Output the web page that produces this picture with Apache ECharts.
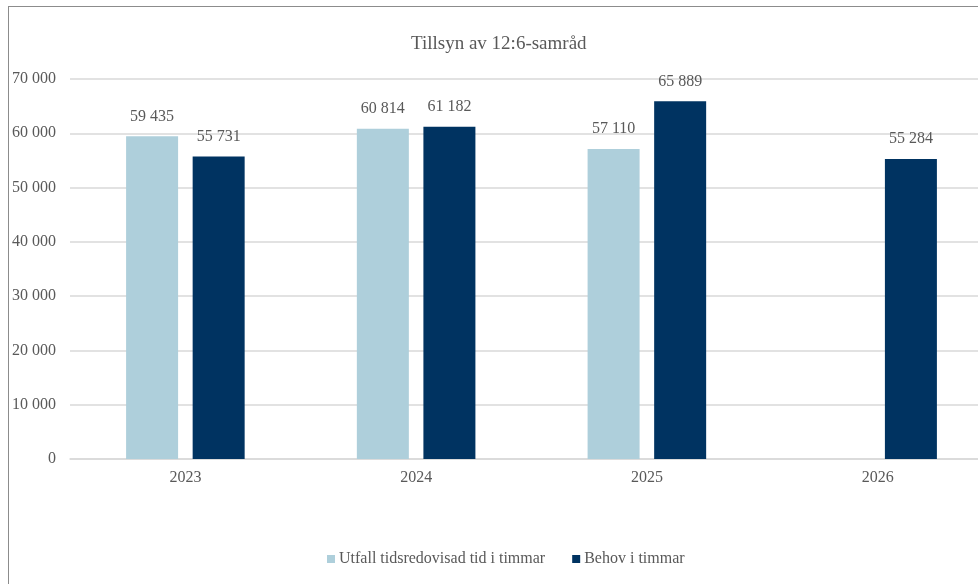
<!DOCTYPE html>
<html>
<head>
<meta charset="utf-8">
<script src="https://cdn.jsdelivr.net/npm/echarts@6/dist/echarts.min.js"></script>
<style>
  html, body { margin: 0; padding: 0; background: #fff; overflow: hidden; width: 978px; height: 584px; }
  #frame { position: absolute; left: 8px; top: 6px; width: 1000px; height: 600px; border: 1px solid #8c8c8c; box-sizing: border-box; }
  #chart { position: absolute; left: 0; top: 0; width: 1000px; height: 584px; }
</style>
</head>
<body>
<div id="frame"></div>
<div id="chart"></div>
<script>
const years = ['2023', '2024', '2025', '2026'];
const utfall = [59435, 60814, 57110, null];
const behov = [55731, 61182, 65889, 55284];
const yTicks = [0, 10000, 20000, 30000, 40000, 50000, 60000, 70000];

const fmt = v => String(v).replace(/\B(?=(\d{3})+(?!\d))/g, ' ');
const font = '"Liberation Serif", "Times New Roman", serif';

const chart = echarts.init(document.getElementById('chart'));
const labelCfg = {
  show: true, position: 'top', distance: 12,
  color: '#595959', fontFamily: font, fontSize: 16,
  formatter: p => fmt(p.value)
};
chart.setOption({
  backgroundColor: 'transparent',
  animation: false,
  title: {
    text: 'Tillsyn av 12:6-samråd', left: 406, top: 30,
    textStyle: { fontFamily: font, fontSize: 19, fontWeight: 'normal', color: '#595959' }
  },
  legend: {
    top: 546, left: 322, itemWidth: 8, itemHeight: 8, itemGap: 27, icon: 'rect',
    textStyle: { fontFamily: font, fontSize: 16, color: '#595959', padding: [0, 0, 0, -1] },
    data: ['Utfall tidsredovisad tid i timmar', 'Behov i timmar']
  },
  grid: { left: 70, right: 7, top: 79, bottom: 125, containLabel: false },
  xAxis: {
    type: 'category', data: years,
    axisLine: { lineStyle: { color: '#d9d9d9', width: 1.5 } },
    axisTick: { show: false },
    axisLabel: { fontFamily: font, fontSize: 16, color: '#595959', margin: 11 }
  },
  yAxis: {
    type: 'value', min: yTicks[0], max: yTicks[yTicks.length - 1], interval: 10000,
    axisLine: { show: false }, axisTick: { show: false },
    splitLine: { lineStyle: { color: '#d9d9d9', width: 1.5 } },
    axisLabel: { fontFamily: font, fontSize: 16, color: '#595959', margin: 14, formatter: v => fmt(v) }
  },
  series: [
    { name: 'Utfall tidsredovisad tid i timmar', type: 'bar', data: utfall, barWidth: 52, barGap: '28%',
      itemStyle: { color: '#aecfdb' }, label: labelCfg },
    { name: 'Behov i timmar', type: 'bar', data: behov, barWidth: 52,
      itemStyle: { color: '#003361' }, label: labelCfg }
  ]
});
</script>
</body>
</html>
